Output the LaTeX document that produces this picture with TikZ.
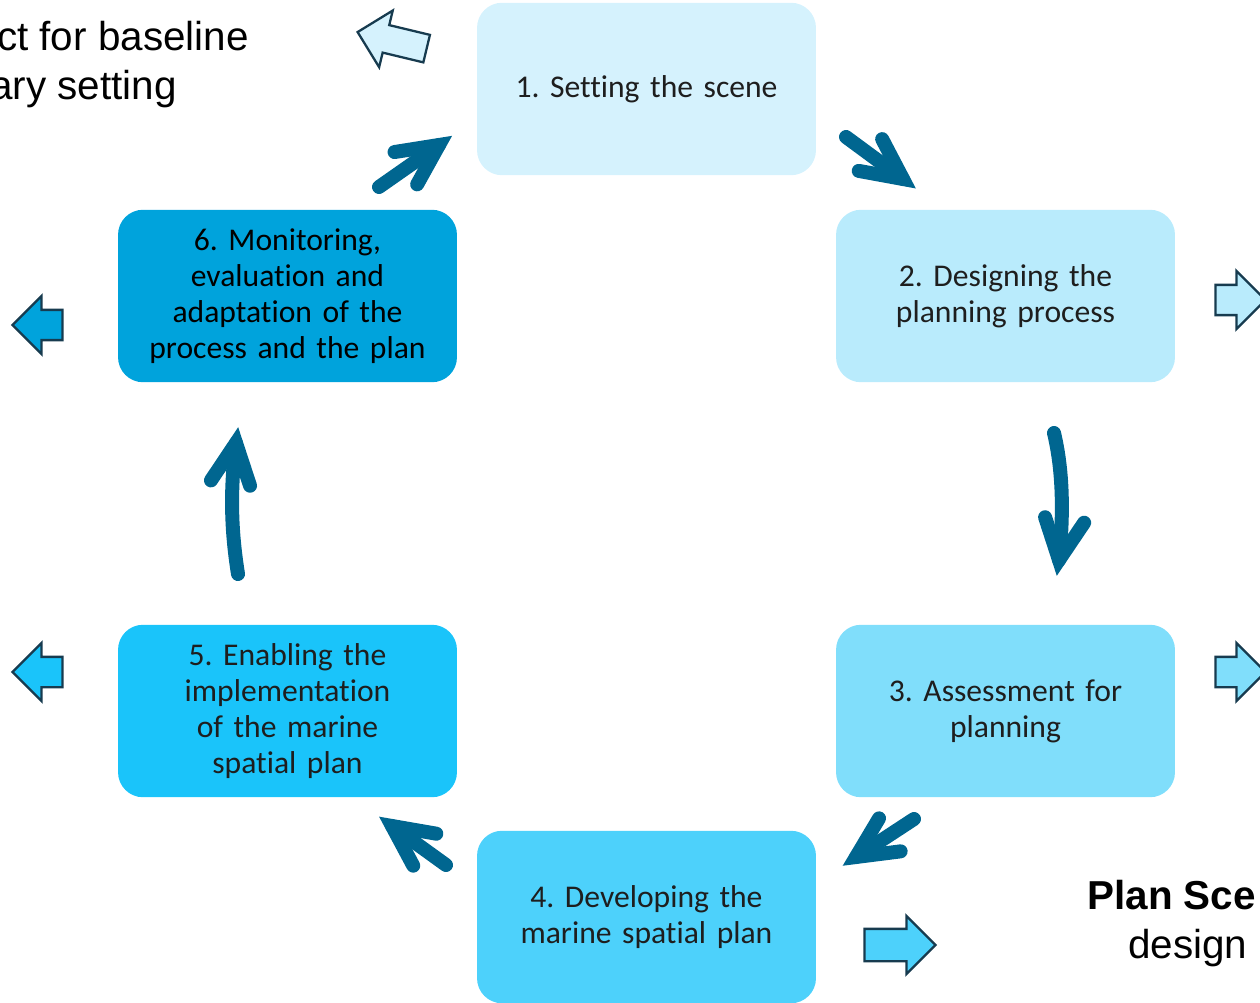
\documentclass[tikz,border=0pt]{standalone}
\usepackage{fontspec}
\setmainfont{Carlito}[Ligatures=NoCommon]
\newfontfamily\arialfont{Liberation Sans}
\usepackage{xcolor}
\usepackage{tikz}
\usetikzlibrary{shapes.arrows, calc}

\definecolor{stage_one}{HTML}{D5F2FD}
\definecolor{stage_two}{HTML}{B9EBFC}
\definecolor{stage_three}{HTML}{80DEFB}
\definecolor{stage_four}{HTML}{4DD1FB}
\definecolor{stage_five}{HTML}{1AC4FA}
\definecolor{stage_six}{HTML}{00A3DC}
\definecolor{cycle_teal}{HTML}{006690}
\definecolor{edge_dark}{HTML}{173B4F}
\definecolor{stage_text}{HTML}{1E1E1E}

\frenchspacing

\begin{document}
\begin{tikzpicture}[x=0.02cm, y=-0.02cm,
        % Define common styles for nodes
        stage/.style={rectangle, rounded corners=0.5cm, minimum width=6.78cm, minimum height=3.45cm, text width=6.3cm, align=center, font=\fontsize{18}{20.5}\selectfont, text=stage_text},
        side_arrow/.style={single arrow, draw=edge_dark, line width=1.3pt, inner xsep=0pt, inner ysep=0.28cm, text height=0pt, text depth=0pt, single arrow head extend=0.28cm, minimum height=1.0cm},
        side_text/.style={font=\arialfont\fontsize{23}{27}\selectfont, inner sep=0pt},
        % Styles for the cycle arrows
        cycle_line/.style={draw=cycle_teal, line width=0.28cm, line cap=round},
        cycle_head/.style={cycle_line, line join=miter},
    ]
    \useasboundingbox (0,0) rectangle (1260,1003);

    % Stages of the cycle
    \node (setting_scene) [stage, fill=stage_one] at (646.5,89) {1. Setting the scene};
    \node (design_process) [stage, fill=stage_two] at (1005.5,296) {2. Designing the\\planning process};
    \node (assessment) [stage, fill=stage_three] at (1005.5,711) {3. Assessment for\\planning};
    \node (develop_plan) [stage, fill=stage_four] at (646.5,917) {4. Developing the\\marine spatial plan};
    \node (enable_impl) [stage, fill=stage_five] at (287.5,711) {5. Enabling the\\implementation\\of the marine\\spatial plan};
    \node (monitoring) [stage, fill=stage_six, text=black] at (287.5,296) {6. Monitoring,\\evaluation and\\adaptation of the\\process and the plan};

    % Outputs pointing away from the stages
    \node (out_scene) [side_arrow, fill=stage_one, rotate=166.5, minimum height=1.42cm, inner ysep=0.26cm, single arrow head extend=0.3cm] at (399,42) {};
    \node (out_design) [side_arrow, fill=stage_two] at (1233,300) {};
    \node (out_assess) [side_arrow, fill=stage_three] at (1233,672) {};
    \node (out_develop) [side_arrow, fill=stage_four, minimum height=1.42cm, inner ysep=0.3cm, single arrow head extend=0.26cm] at (892,945) {};
    \node (out_enable) [side_arrow, fill=stage_five, shape border rotate=180] at (45,672) {};
    \node (out_monitor) [side_arrow, fill=stage_six, shape border rotate=180] at (45,325) {};

    % Texts cut by the border
    \node (baseline_text) [side_text, anchor=base east] at (249,51) {ct for baseline};
    \node (boundary_text) [side_text, anchor=base east] at (177,100) {ary setting};
    \node (scenario_text) [side_text, anchor=base west, font=\arialfont\bfseries\fontsize{23}{27}\selectfont] at (1087,909) {Plan Sce};
    \node (design_text) [side_text, anchor=base west] at (1128,958) {design};

    % Ends of the cycle arrows
    \coordinate (a12_start) at (846,137);
    \coordinate (a12_tip) at (903,179);
    \coordinate (a23_start) at (1054,433);
    \coordinate (a23_tip) at (1059,560);
    \coordinate (a23_back) at (1066,510);
    \coordinate (a34_start) at (914,819);
    \coordinate (a34_tip) at (856,857);
    \coordinate (a45_start) at (446,865);
    \coordinate (a45_tip) at (392,826);
    \coordinate (a56_start) at (238,574);
    \coordinate (a56_tip) at (236,443);
    \coordinate (a56_back) at (229,494);
    \coordinate (a61_start) at (379,187);
    \coordinate (a61_tip) at (439,145);

    % Shafts
    \draw[cycle_line] (a12_start) -- (a12_tip);
    \draw[cycle_line] (a23_start) .. controls (1064,475) and (1063,520) .. (a23_tip);
    \draw[cycle_line] (a34_start) -- (a34_tip);
    \draw[cycle_line] (a45_start) -- (a45_tip);
    \draw[cycle_line] (a56_start) .. controls (231,530) and (230,490) .. (a56_tip);
    \draw[cycle_line] (a61_start) -- (a61_tip);

    % Heads
    \foreach \tip/\back in {a12_tip/a12_start, a23_tip/a23_back, a34_tip/a34_start, a45_tip/a45_start, a56_tip/a56_back, a61_tip/a61_start}
        \draw[cycle_head] ($(\tip)!0.9cm!26:(\back)$) -- (\tip) -- ($(\tip)!0.9cm!-26:(\back)$);

\end{tikzpicture}
\end{document}
